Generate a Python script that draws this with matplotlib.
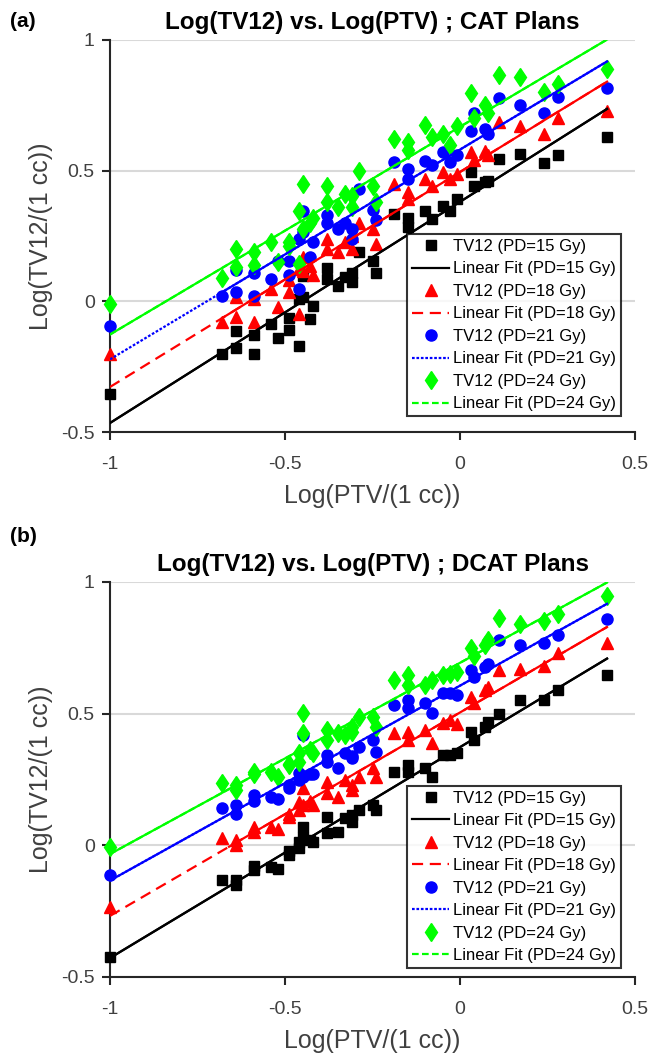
import numpy as np
import matplotlib
matplotlib.use("Agg")
import matplotlib.pyplot as plt

plt.rcParams['font.family'] = ['Liberation Sans', 'DejaVu Sans']

# log10 of PTV volume, same plans in both panels
log_ptv = [-1.00, -0.68, -0.64, -0.64, -0.59, -0.59, -0.54, -0.52, -0.49, -0.49,
           -0.46, -0.46, -0.45, -0.45, -0.43, -0.42, -0.38, -0.38, -0.35, -0.33,
           -0.31, -0.31, -0.29, -0.25, -0.24, -0.19, -0.15, -0.15, -0.10, -0.08,
           -0.05, -0.03, -0.01, 0.03, 0.04, 0.07, 0.08, 0.11, 0.17, 0.24,
           0.28, 0.42]

doses = [15, 18, 21, 24]

# CAT plans
cat_15 = [-0.354, -0.20, -0.177, -0.115, -0.20, -0.13, -0.085, -0.142, -0.108, -0.062,
          -0.169, 0.008, 0.015, 0.096, -0.066, -0.019, 0.085, 0.127, 0.058, 0.092,
          0.11, 0.073, 0.19, 0.154, 0.11, 0.335, 0.32, 0.285, 0.346, 0.315,
          0.365, 0.346, 0.392, 0.496, 0.442, 0.458, 0.46, 0.546, 0.565, 0.53,
          0.56, 0.63]
cat_18 = [-0.20, -0.08, -0.06, 0.015, -0.08, 0.01, 0.046, -0.02, 0.035, 0.08,
          -0.05, 0.123, 0.115, 0.17, 0.135, 0.10, 0.238, 0.20, 0.188, 0.227,
          0.25, 0.20, 0.30, 0.277, 0.219, 0.45, 0.419, 0.39, 0.469, 0.44,
          0.496, 0.47, 0.488, 0.573, 0.54, 0.577, 0.56, 0.688, 0.67, 0.64,
          0.70, 0.73]
cat_21 = [-0.096, 0.02, 0.035, 0.12, 0.02, 0.11, 0.085, 0.154, 0.154, 0.10,
          0.046, 0.238, 0.265, 0.346, 0.17, 0.227, 0.30, 0.33, 0.277, 0.30,
          0.277, 0.24, 0.43, 0.35, 0.31, 0.535, 0.508, 0.47, 0.538, 0.52,
          0.573, 0.535, 0.56, 0.65, 0.72, 0.66, 0.64, 0.777, 0.75, 0.72,
          0.78, 0.815]
cat_24 = [-0.01, 0.09, 0.20, 0.13, 0.19, 0.14, 0.227, 0.15, 0.227, 0.21,
          0.142, 0.346, 0.45, 0.277, 0.30, 0.32, 0.442, 0.38, 0.36, 0.41,
          0.404, 0.36, 0.50, 0.442, 0.38, 0.623, 0.61, 0.58, 0.673, 0.63,
          0.642, 0.60, 0.67, 0.796, 0.70, 0.75, 0.72, 0.865, 0.86, 0.80,
          0.83, 0.89]

# DCAT plans
dcat_15 = [-0.426, -0.133, -0.152, -0.133, -0.095, -0.077, -0.083, -0.09, -0.038, -0.02,
           -0.011, 0.011, 0.03, 0.068, 0.02, 0.011, 0.106, 0.045, 0.05, 0.103,
           0.114, 0.09, 0.133, 0.152, 0.133, 0.278, 0.304, 0.28, 0.293, 0.259,
           0.342, 0.342, 0.35, 0.43, 0.40, 0.45, 0.47, 0.50, 0.55, 0.55,
           0.59, 0.645]
dcat_18 = [-0.235, 0.027, 0.02, 0.00, 0.068, 0.05, 0.068, 0.06, 0.106, 0.12,
           0.133, 0.163, 0.217, 0.152, 0.17, 0.152, 0.24, 0.20, 0.183, 0.247,
           0.228, 0.21, 0.26, 0.293, 0.259, 0.426, 0.43, 0.40, 0.437, 0.39,
           0.464, 0.475, 0.46, 0.563, 0.54, 0.59, 0.60, 0.665, 0.67, 0.68,
           0.73, 0.77]
dcat_21 = [-0.114, 0.14, 0.152, 0.12, 0.19, 0.17, 0.183, 0.175, 0.217, 0.23,
           0.247, 0.274, 0.418, 0.26, 0.27, 0.27, 0.342, 0.316, 0.293, 0.35,
           0.34, 0.33, 0.373, 0.40, 0.354, 0.532, 0.551, 0.52, 0.54, 0.502,
           0.578, 0.58, 0.57, 0.665, 0.64, 0.677, 0.69, 0.78, 0.76, 0.77,
           0.80, 0.86]
dcat_24 = [-0.008, 0.235, 0.228, 0.21, 0.278, 0.27, 0.278, 0.26, 0.304, 0.31,
           0.316, 0.35, 0.502, 0.426, 0.36, 0.35, 0.437, 0.40, 0.426, 0.42,
           0.449, 0.43, 0.487, 0.487, 0.449, 0.627, 0.646, 0.608, 0.608, 0.627,
           0.646, 0.65, 0.658, 0.749, 0.72, 0.76, 0.78, 0.863, 0.84, 0.85,
           0.88, 0.945]

colors = ['#000000', '#ff0000', '#0000ff', '#00ff00']
markers = ['s', '^', 'o', 'd']
msizes = [7, 9, 8, 9.5]
fit_styles = ['-', (0, (5, 3)), (0, (1.2, 0.8)), (0, (3, 1.5))]

panels = [
    ('(a)', 'Log(TV12) vs. Log(PTV) ; CAT Plans', [cat_15, cat_18, cat_21, cat_24],
     [-1.0, -0.68, -0.68, -1.0], 0.04),
    ('(b)', 'Log(TV12) vs. Log(PTV) ; DCAT Plans', [dcat_15, dcat_18, dcat_21, dcat_24],
     [-1.0, -0.66, -1.0, -1.0], 0.022),
]

fig = plt.figure(figsize=(6.64, 10.61), dpi=100)
axes_rects = [[0.1657, 0.5928, 0.7907, 0.3695], [0.1657, 0.0792, 0.7907, 0.3723]]
tag_y = [0.975, 0.489]
gray = '#404040'

x = np.array(log_ptv)
for (tag, title, series, solid_from, leg_y), rect, ty in zip(panels, axes_rects, tag_y):
    ax = fig.add_axes(rect)
    xf = np.array([x.min(), x.max()])
    for i, d in enumerate(doses):
        ax.plot(x, series[i], linestyle='none', marker=markers[i], ms=msizes[i],
                color=colors[i], clip_on=False, zorder=3,
                label='TV12 (PD=%d Gy)' % d)
        k, b = np.polyfit(x, series[i], 1)
        ax.plot(xf, k * xf + b, linestyle=fit_styles[i], lw=1.6,
                color=colors[i], zorder=4, label='Linear Fit (PD=%d Gy)' % d)
        # the fitted line shows solid across most of the data range
        xs = np.array([solid_from[i], x.max()])
        ax.plot(xs, k * xs + b, '-', lw=1.6, color=colors[i], zorder=4)

    ax.set_xlim(-1, 0.5)
    ax.set_ylim(-0.5, 1)
    ax.set_xticks([-1, -0.5, 0, 0.5])
    ax.set_xticklabels(['-1', '-0.5', '0', '0.5'])
    ax.set_yticks([-0.5, 0, 0.5, 1])
    ax.set_yticklabels(['-0.5', '0', '0.5', '1'])
    ax.yaxis.grid(True, color='#d9d9d9', lw=1.5)
    ax.set_axisbelow(True)
    for s in ['top', 'right']:
        ax.spines[s].set_visible(False)
    for s in ['left', 'bottom']:
        ax.spines[s].set_linewidth(1.5)
        ax.spines[s].set_color('#262626')
    ax.tick_params(direction='out', length=6, width=1.5, color='#262626',
                   labelsize=14, labelcolor=gray)
    ax.tick_params(axis='x', pad=11)
    ax.tick_params(axis='y', pad=5)
    ax.set_xlabel('Log(PTV/(1 cc))', fontsize=18, color=gray, labelpad=8)
    ax.set_ylabel('Log(TV12/(1 cc))', fontsize=18, color=gray, labelpad=6)
    ax.set_title(title, fontsize=17.5, fontweight='bold', pad=8)

    leg = ax.legend(loc='lower left', bbox_to_anchor=(0.566, leg_y), borderaxespad=0,
                    fontsize=12, frameon=True, fancybox=False, handlelength=2.2,
                    handletextpad=0.25, labelspacing=0.45, borderpad=0.3)
    leg.get_frame().set_edgecolor('#000000')
    leg.get_frame().set_linewidth(1.5)

    fig.text(0.015, ty, tag, fontsize=15, fontweight='bold')

fig.savefig('out.png', dpi=100)
